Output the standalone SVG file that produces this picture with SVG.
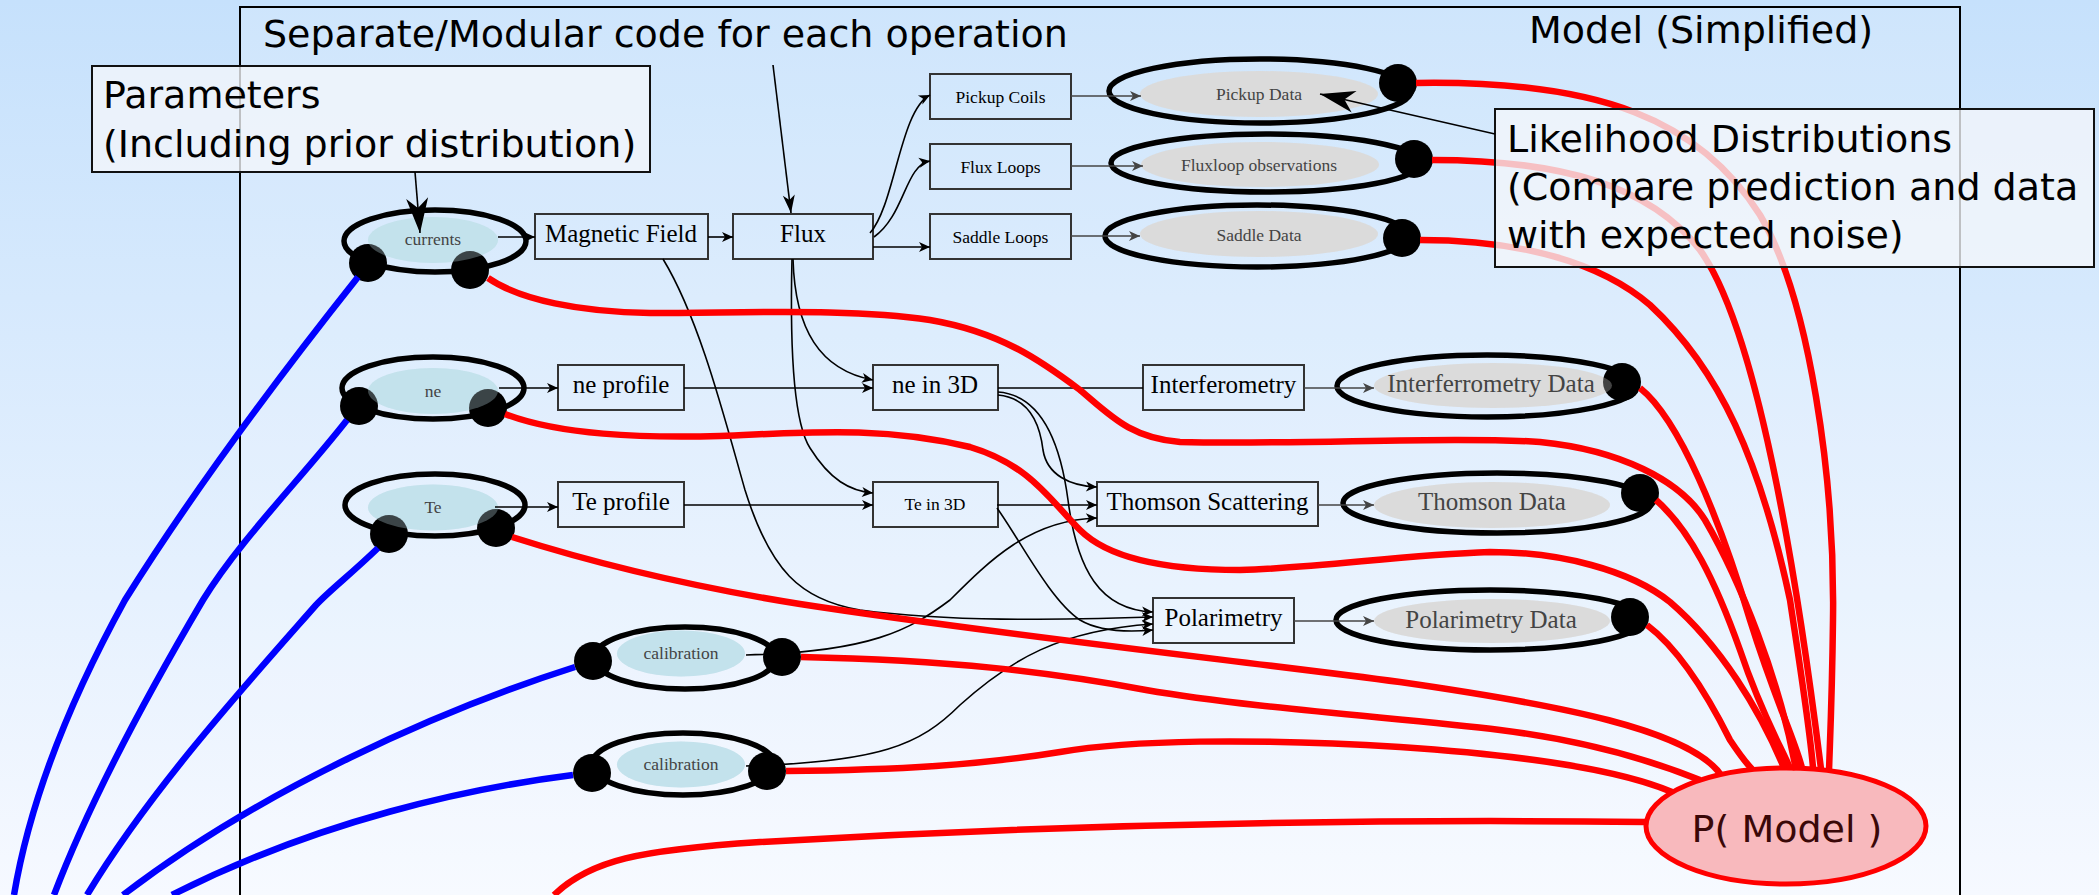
<svg xmlns="http://www.w3.org/2000/svg" width="2099" height="895" viewBox="0 0 2099 895">
<defs>
<linearGradient id="bg" x1="0" y1="0" x2="0" y2="1">
<stop offset="0" stop-color="#c6e1fc"/>
<stop offset="1" stop-color="#f6f9ff"/>
</linearGradient>
<marker id="ah" viewBox="-12 -6 13 12" refX="0" refY="0" markerWidth="13" markerHeight="12" markerUnits="userSpaceOnUse" orient="auto">
<path d="M0,0 L-11,-5 L-8,0 L-11,5 Z" fill="#000"/>
</marker>
<marker id="ahg" viewBox="-12 -6 13 12" refX="0" refY="0" markerWidth="13" markerHeight="12" markerUnits="userSpaceOnUse" orient="auto">
<path d="M0,0 L-11,-5 L-8,0 L-11,5 Z" fill="#444"/>
</marker>
<marker id="ahmid" viewBox="-20 -7 21 14" refX="0" refY="0" markerWidth="21" markerHeight="14" markerUnits="userSpaceOnUse" orient="auto">
<path d="M0,0 L-18,-6 L-13,0 L-18,6 Z" fill="#000"/>
</marker>
<marker id="ahbig" viewBox="-37 -12 38 24" refX="0" refY="0" markerWidth="38" markerHeight="24" markerUnits="userSpaceOnUse" orient="auto">
<path d="M0,0 L-35,-11 L-25,0 L-35,11 Z" fill="#000"/>
</marker>
</defs>
<style>
.box{fill:none;stroke:#333;stroke-width:2}
.bt{font-family:"Liberation Serif","Times New Roman",serif;font-size:25px;fill:#000;text-anchor:middle}
.bs{font-family:"Liberation Serif","Times New Roman",serif;font-size:17.5px;fill:#000;text-anchor:middle}
.nt{font-family:"Liberation Serif","Times New Roman",serif;font-size:17.5px;fill:#444;text-anchor:middle}
.ntl{font-family:"Liberation Serif","Times New Roman",serif;font-size:25px;fill:#444;text-anchor:middle}
.ring{fill:none;stroke:#000;stroke-width:5.5}
.pin{fill:#c3e2ec}
.din{fill:#dcdcdc}
.ov{opacity:0.3}
.dot{fill:#000}
.ann{font-family:"DejaVu Sans","Noto Sans",sans-serif;font-size:38px;fill:#000}
.note{fill:#f4f6fa;fill-opacity:0.78;stroke:#111;stroke-width:2}
.thin{fill:none;stroke:#000;stroke-width:1.6}
.gl{fill:none;stroke:#444;stroke-width:1.6}
.red{fill:none;stroke:#ff0000;stroke-width:6.5}
.blue{fill:none;stroke:#0000ff;stroke-width:6.5}
</style>
<rect x="0" y="0" width="2099" height="895" fill="url(#bg)"/>
<rect id="frame" x="240" y="7" width="1720" height="1000" fill="#fff" fill-opacity="0.15" stroke="#000" stroke-width="2"/>
<g id="title">
<text class="ann" x="263" y="47">Separate/Modular code for each operation</text>
<text class="ann" x="1529" y="43">Model (Simplified)</text>
</g>

<g id="node-currents">
<ellipse class="ring" cx="435" cy="241" rx="91" ry="31"/>
<ellipse class="pin" cx="433" cy="240" rx="65" ry="23"/>
<circle class="dot" cx="368" cy="263" r="19"/>
<circle class="dot" cx="470" cy="270" r="19"/>
<ellipse class="pin ov" cx="433" cy="240" rx="65" ry="23"/>
<text class="nt" x="433" y="245">currents</text>
</g>
<g id="node-ne">
<ellipse class="ring" cx="433" cy="388" rx="91" ry="31"/>
<ellipse class="pin" cx="433" cy="391" rx="65" ry="23"/>
<circle class="dot" cx="359" cy="406" r="19"/>
<circle class="dot" cx="488" cy="408" r="19"/>
<ellipse class="pin ov" cx="433" cy="391" rx="65" ry="23"/>
<text class="nt" x="433" y="397">ne</text>
</g>
<g id="node-te">
<ellipse class="ring" cx="435" cy="505" rx="90" ry="31"/>
<ellipse class="pin" cx="433" cy="507.5" rx="65" ry="23"/>
<circle class="dot" cx="389" cy="534" r="19"/>
<circle class="dot" cx="496" cy="528" r="19"/>
<ellipse class="pin ov" cx="433" cy="507.5" rx="65" ry="23"/>
<text class="nt" x="433" y="513">Te</text>
</g>
<g id="node-calibration1">
<ellipse class="ring" cx="685" cy="658" rx="91" ry="31"/>
<ellipse class="pin" cx="681" cy="653.5" rx="64" ry="23"/>
<circle class="dot" cx="593" cy="661" r="19"/>
<circle class="dot" cx="782" cy="657" r="19"/>
<ellipse class="pin ov" cx="681" cy="653.5" rx="64" ry="23"/>
<text class="nt" x="681" y="659">calibration</text>
</g>
<g id="node-calibration2">
<ellipse class="ring" cx="683" cy="764" rx="91" ry="31"/>
<ellipse class="pin" cx="681" cy="764.5" rx="64" ry="23"/>
<circle class="dot" cx="592" cy="773" r="19"/>
<circle class="dot" cx="767" cy="771" r="19"/>
<ellipse class="pin ov" cx="681" cy="764.5" rx="64" ry="23"/>
<text class="nt" x="681" y="770">calibration</text>
</g>

<g id="node-magnetic-field"><rect class="box" x="535" y="214" width="173" height="45"/><text class="bt" x="621" y="242">Magnetic Field</text></g>
<g id="node-flux"><rect class="box" x="733" y="214" width="140" height="45"/><text class="bt" x="803" y="242">Flux</text></g>
<g id="node-pickup-coils"><rect class="box" x="930" y="74" width="141" height="45"/><text class="bs" x="1000.5" y="103">Pickup Coils</text></g>
<g id="node-flux-loops"><rect class="box" x="930" y="144" width="141" height="45"/><text class="bs" x="1000.5" y="173">Flux Loops</text></g>
<g id="node-saddle-loops"><rect class="box" x="930" y="214" width="141" height="45"/><text class="bs" x="1000.5" y="243">Saddle Loops</text></g>
<g id="node-ne-profile"><rect class="box" x="558" y="365" width="126" height="45"/><text class="bt" x="621" y="393">ne profile</text></g>
<g id="node-te-profile"><rect class="box" x="558" y="482" width="126" height="45"/><text class="bt" x="621" y="510">Te profile</text></g>
<g id="node-ne-3d"><rect class="box" x="873" y="365" width="125" height="45"/><text class="bt" x="935" y="393">ne in 3D</text></g>
<g id="node-te-3d"><rect class="box" x="873" y="482" width="125" height="45"/><text class="bs" x="935" y="510">Te in 3D</text></g>
<g id="node-interferometry"><rect class="box" x="1143" y="365" width="161" height="45"/><text class="bt" x="1223.5" y="393">Interferometry</text></g>
<g id="node-thomson"><rect class="box" x="1097" y="482" width="221" height="44"/><text class="bt" x="1207.5" y="510">Thomson Scattering</text></g>
<g id="node-polarimetry"><rect class="box" x="1153" y="598" width="141" height="45"/><text class="bt" x="1223.5" y="626">Polarimetry</text></g>

<g id="node-pickup-data">
<ellipse class="ring" cx="1260" cy="91" rx="151" ry="32"/>
<ellipse class="din" cx="1259" cy="94" rx="119" ry="23"/>
<circle class="dot" cx="1398" cy="83" r="19"/>
<ellipse class="din ov" cx="1259" cy="94" rx="119" ry="23"/>
<text class="nt" x="1259" y="100">Pickup Data</text>
</g>
<g id="node-fluxloop-obs">
<ellipse class="ring" cx="1266" cy="163" rx="155" ry="29"/>
<ellipse class="din" cx="1260" cy="164.5" rx="119" ry="22.5"/>
<circle class="dot" cx="1414" cy="159" r="19"/>
<ellipse class="din ov" cx="1260" cy="164.5" rx="119" ry="22.5"/>
<text class="nt" x="1259" y="171">Fluxloop observations</text>
</g>
<g id="node-saddle-data">
<ellipse class="ring" cx="1257" cy="236" rx="152" ry="31"/>
<ellipse class="din" cx="1259" cy="234" rx="119" ry="23"/>
<circle class="dot" cx="1402" cy="238" r="19"/>
<ellipse class="din ov" cx="1259" cy="234" rx="119" ry="23"/>
<text class="nt" x="1259" y="241">Saddle Data</text>
</g>
<g id="node-interferometry-data">
<ellipse class="ring" cx="1487" cy="386" rx="150" ry="31"/>
<ellipse class="din" cx="1493" cy="385.5" rx="119" ry="22.5"/>
<circle class="dot" cx="1622" cy="382" r="19"/>
<ellipse class="din ov" cx="1493" cy="385.5" rx="119" ry="22.5"/>
<text class="ntl" x="1491" y="392">Interferrometry Data</text>
</g>
<g id="node-thomson-data">
<ellipse class="ring" cx="1497" cy="503" rx="154" ry="30"/>
<ellipse class="din" cx="1492" cy="505" rx="118" ry="23"/>
<circle class="dot" cx="1640" cy="493" r="19"/>
<ellipse class="din ov" cx="1492" cy="505" rx="118" ry="23"/>
<text class="ntl" x="1492" y="510">Thomson Data</text>
</g>
<g id="node-polarimetry-data">
<ellipse class="ring" cx="1490" cy="620" rx="154" ry="30"/>
<ellipse class="din" cx="1492" cy="621" rx="118" ry="22"/>
<circle class="dot" cx="1630" cy="617" r="19"/>
<ellipse class="din ov" cx="1492" cy="621" rx="118" ry="22"/>
<text class="ntl" x="1491" y="628">Polarimetry Data</text>
</g>
<g id="node-p-model">
<ellipse cx="1786" cy="826" rx="140" ry="58" fill="#f8b9bd" stroke="#ff0000" stroke-width="5"/>
<text x="1787" y="842" font-family="DejaVu Sans, sans-serif" font-size="38" fill="#3a0808" text-anchor="middle">P( Model )</text>
</g>

<g id="connectors">
<path class="thin" d="M498,237 L535,237" marker-end="url(#ah)"/>
<path class="thin" d="M708,237 L733,237" marker-end="url(#ah)"/>
<path class="thin" d="M870,233 C895,205 900,110 930,95" marker-end="url(#ah)"/>
<path class="thin" d="M874,237 C905,215 905,165 930,161" marker-end="url(#ah)"/>
<path class="thin" d="M873,247 L930,247" marker-end="url(#ah)"/>
<path class="gl" d="M1071,96 L1141,96" marker-end="url(#ahg)"/>
<path class="gl" d="M1071,166 L1143,166" marker-end="url(#ahg)"/>
<path class="gl" d="M1071,236 L1140,236" marker-end="url(#ahg)"/>
<path class="thin" d="M499,388 L558,388" marker-end="url(#ah)"/>
<path class="thin" d="M495,507 L558,507" marker-end="url(#ah)"/>
<path class="thin" d="M684,388 L873,388" marker-end="url(#ah)"/>
<path class="thin" d="M684,505 L873,505" marker-end="url(#ah)"/>
<path class="thin" d="M793,259 C795,330 820,370 873,380" marker-end="url(#ah)"/>
<path class="thin" d="M792,259 C790,340 792,420 810,448 C830,480 850,491 873,493" marker-end="url(#ah)"/>
<path class="thin" d="M663,259 C700,320 725,420 745,490 C770,570 800,600 860,610 C950,622 1050,620 1153,617" marker-end="url(#ah)"/>
<path class="thin" d="M998,388 L1143,388"/>
<path class="thin" d="M998,395 C1030,398 1040,425 1043,450 C1047,475 1070,486 1097,487" marker-end="url(#ah)"/>
<path class="thin" d="M998,392 C1040,395 1060,440 1068,500 C1077,570 1100,610 1153,612" marker-end="url(#ah)"/>
<path class="thin" d="M997,505 L1097,505" marker-end="url(#ah)"/>
<path class="thin" d="M997,508 C1020,540 1050,600 1080,620 C1100,632 1130,632 1153,630" marker-end="url(#ah)"/>
<path class="thin" d="M746,655 C870,652 910,630 950,600 C990,560 1030,520 1097,518" marker-end="url(#ah)"/>
<path class="thin" d="M746,766 C880,762 920,745 960,705 C1010,660 1060,630 1153,624" marker-end="url(#ah)"/>
<path class="gl" d="M1304,388 L1374,388" marker-end="url(#ahg)"/>
<path class="gl" d="M1318,505 L1374,505" marker-end="url(#ahg)"/>
<path class="gl" d="M1294,621 L1374,621" marker-end="url(#ahg)"/>

<path class="blue" d="M358,277 C300,350 200,480 125,600 C70,700 30,800 14,895"/>
<path class="blue" d="M347,420 C300,480 240,540 203,600 C150,690 90,800 54,895"/>
<path class="blue" d="M378,548 C350,575 330,590 316,605 C250,680 150,790 87,895"/>
<path class="blue" d="M575,667 C440,710 260,790 123,895"/>
<path class="blue" d="M573,775 C470,788 320,820 172,895"/>

<path class="red" d="M554,895 C590,860 640,850 760,842 C1000,828 1300,818 1645,822"/>
<path class="red" d="M801,657 C950,660 1050,672 1146,690 C1250,708 1400,718 1500,730 C1580,740 1650,760 1700,780"/>
<path class="red" d="M786,771 C900,770 980,765 1060,752 C1130,740 1250,738 1400,747 C1520,755 1620,770 1672,792"/>
<path class="red" d="M512,537 C600,565 700,588 800,604 C1000,635 1250,662 1400,682 C1560,705 1690,730 1721,775"/>
<path class="red" d="M505,414 C560,435 640,438 720,436 C800,433 880,425 970,447 C1030,465 1050,500 1080,530 C1110,560 1170,570 1240,570 C1320,568 1400,555 1490,552 C1560,552 1630,570 1670,602 C1720,645 1760,710 1784,768"/>
<path class="red" d="M488,278 C520,300 580,312 650,313 C750,313 850,308 930,320 C1000,332 1040,360 1080,390 C1110,415 1130,438 1180,442 C1300,445 1450,436 1540,442 C1620,450 1680,480 1705,520 C1740,580 1780,680 1796,770"/>
<path class="red" d="M1640,388 C1680,420 1720,520 1750,620 C1775,700 1795,740 1802,768"/>
<path class="red" d="M1656,500 C1690,530 1715,580 1740,650 C1760,710 1780,745 1790,768"/>
<path class="red" d="M1647,625 C1680,650 1710,700 1730,740 C1740,755 1748,765 1752,769"/>
<path class="red" d="M1420,240 C1520,240 1600,262 1650,305 C1720,370 1760,460 1790,600 C1802,680 1810,730 1813,768"/>
<path class="red" d="M1432,160 C1560,160 1650,185 1700,250 C1750,320 1790,520 1821,769"/>
<path class="red" d="M1416,83 C1600,80 1700,120 1760,215 C1810,300 1835,480 1833,620 C1832,700 1830,740 1829,771"/>

<path class="thin" d="M773,65 L791,213" marker-end="url(#ahmid)"/>
</g>

<g id="note-parameters">
<rect class="note" x="92" y="66" width="558" height="106"/>
<text class="ann" x="103" y="108">Parameters</text>
<text class="ann" x="103" y="157">(Including prior distribution)</text>
<path class="thin" d="M415,172 L420,233" marker-end="url(#ahbig)"/>
</g>
<g id="note-likelihood">
<rect class="note" x="1495" y="109" width="599" height="158"/>
<text class="ann" x="1507" y="152">Likelihood Distributions</text>
<text class="ann" x="1507" y="200">(Compare prediction and data</text>
<text class="ann" x="1507" y="248">with expected noise)</text>
<path class="thin" d="M1495,134 L1320,94" marker-end="url(#ahbig)"/>
</g>
</svg>
